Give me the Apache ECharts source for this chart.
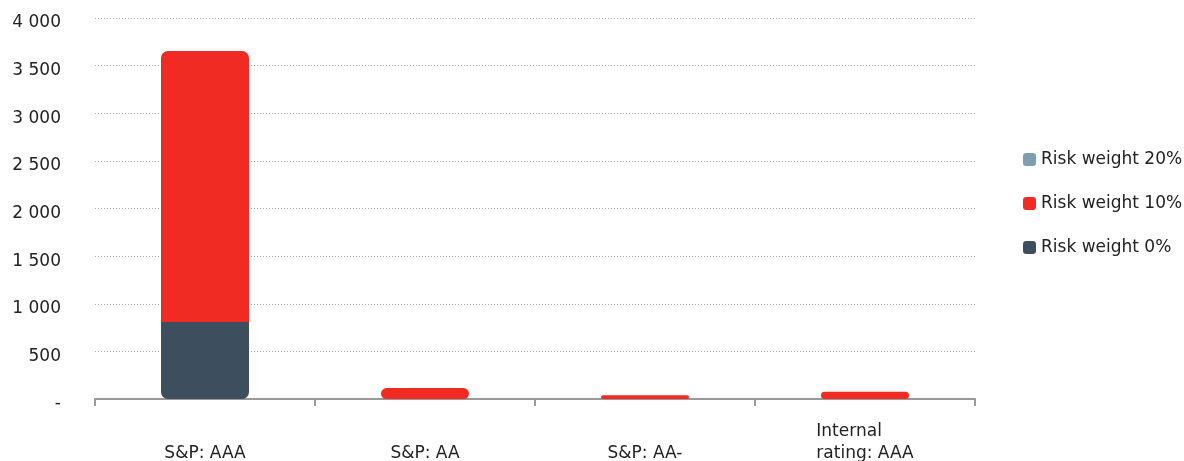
<!DOCTYPE html>
<html lang="en">
<head>
    <meta charset="UTF-8">
    <title>risk_weight_chart</title>
    <script src="https://cdn.jsdelivr.net/npm/echarts@6/dist/echarts.min.js"></script>
    <style>
        html, body { margin: 0; padding: 0; background: #fff; }
    </style>
</head>

<body>
    <div id="mainChart" style="width: 1184px; height: 461px;"></div>
    <script>
        let categories = ['S&P: AAA', 'S&P: AA', 'S&P: AA-', 'Internal\nrating: AAA']
        let weight0 = [808, 0, 0, 0]
        let weight10 = [2846, 115, 40, 75]
        let weight20 = [0, 0, 0, 0]

        function fmt(v) {
            if (v === 0) return '-'
            return String(v).replace(/\B(?=(\d{3})+(?!\d))/g, ' ')
        }

        // two-line labels are left aligned inside their block
        function catFmt(v) {
            if (v.indexOf('\n') < 0) return v
            return v.split('\n').map(function (s) { return '{l|' + s + '}' }).join('\n')
        }

        // rounded ends only on the outer side of the stack
        function items(values, below, above) {
            return values.map(function (v, i) {
                let hasBelow = below && below[i] > 0
                let hasAbove = above && above[i] > 0
                let r = 7
                return {
                    value: v,
                    itemStyle: {
                        borderRadius: [hasAbove ? 0 : r, hasAbove ? 0 : r, hasBelow ? 0 : r, hasBelow ? 0 : r]
                    }
                }
            })
        }

        let fontFamily = '"DejaVu Sans", sans-serif'

        let chartsData = {
            animation: false,
            textStyle: { fontFamily: fontFamily },
            grid: { left: 95, right: 209, top: 18, bottom: 62, outerBoundsMode: 'none', containLabel: false },
            legend: {
                orient: 'vertical',
                left: 1023,
                top: 151,
                padding: 0,
                itemGap: 27,
                itemWidth: 13,
                itemHeight: 13,
                icon: 'roundRect',
                textStyle: { fontSize: 17, color: '#222', fontFamily: fontFamily },
                data: ['Risk weight 20%', 'Risk weight 10%', 'Risk weight 0%']
            },
            xAxis: {
                type: 'category',
                data: categories,
                axisLine: { lineStyle: { color: '#999', width: 2 } },
                axisTick: { show: true, length: 7, alignWithLabel: false, lineStyle: { color: '#999', width: 2 } },
                axisLabel: {
                    interval: 0,
                    margin: 66,
                    verticalAlign: 'bottom',
                    lineHeight: 22,
                    fontSize: 17,
                    color: '#222',
                    fontFamily: fontFamily,
                    formatter: catFmt,
                    rich: {
                        l: { align: 'left', fontSize: 17, lineHeight: 22, color: '#222', fontFamily: fontFamily }
                    }
                }
            },
            yAxis: {
                type: 'value',
                min: 0,
                max: 4000,
                interval: 500,
                axisLine: { show: false },
                axisTick: { show: false },
                splitLine: { lineStyle: { color: '#aaa', type: [1, 2], width: 1 } },
                axisLabel: {
                    margin: 34,
                    verticalAlign: 'top',
                    lineHeight: 10,
                    fontSize: 17,
                    color: '#222',
                    fontFamily: fontFamily,
                    formatter: fmt
                }
            },
            series: [
                {
                    type: 'bar',
                    name: 'Risk weight 0%',
                    stack: 'total',
                    barWidth: '40%',
                    itemStyle: { color: '#3d4f5e' },
                    data: items(weight0, null, weight10)
                },
                {
                    type: 'bar',
                    name: 'Risk weight 10%',
                    stack: 'total',
                    barWidth: '40%',
                    itemStyle: { color: '#f02b23' },
                    data: items(weight10, weight0, weight20)
                },
                {
                    type: 'bar',
                    name: 'Risk weight 20%',
                    stack: 'total',
                    barWidth: '40%',
                    itemStyle: { color: '#7f9db0' },
                    data: items(weight20, weight10, null)
                }
            ]
        }

        let charts = echarts.init(document.querySelector('#mainChart'))
        charts.setOption(chartsData, true)
    </script>
</body>

</html>
